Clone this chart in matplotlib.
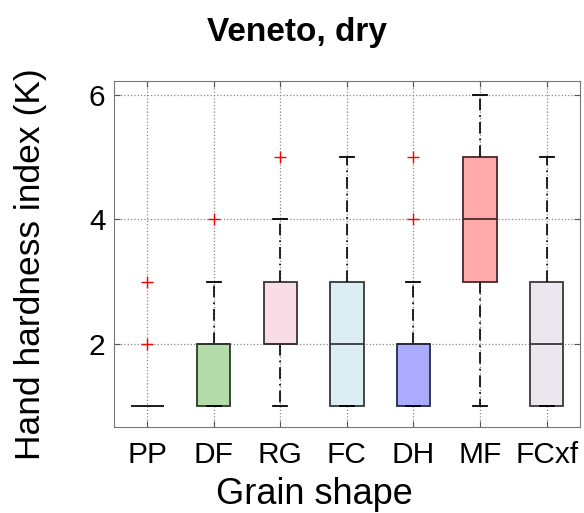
import matplotlib
matplotlib.use('Agg')
import matplotlib.pyplot as plt

plt.rcParams['font.family'] = ['Liberation Sans', 'DejaVu Sans']

# grain shape classes and box statistics
shapes = ['PP', 'DF', 'RG', 'FC', 'DH', 'MF', 'FCxf']
q1 = [1, 1, 2, 1, 1, 3, 1]
med = [1, 2, 2, 2, 2, 4, 2]
q3 = [1, 2, 3, 3, 2, 5, 3]
whis_lo = [1, 1, 1, 1, 1, 1, 1]
whis_hi = [1, 3, 4, 5, 3, 6, 5]
outliers = [[2, 3], [4], [5], [], [4, 5], [], []]

fills = ['#ffffff', '#b4dcaa', '#f8dce6', '#dcedf3', '#aaaaff', '#ffaaaa', '#ece6ee']
edges = ['#222222', '#2a3a28', '#3a3236', '#33393b', '#28284a', '#4a2828', '#3a383a']

stats = []
for i in range(len(shapes)):
    stats.append(dict(med=med[i], q1=q1[i], q3=q3[i], whislo=whis_lo[i],
                      whishi=whis_hi[i], fliers=outliers[i], label=shapes[i]))

fig = plt.figure(figsize=(5.84, 5.13), dpi=100)
ax = fig.add_axes([0.195, 0.168, 0.798, 0.674])

bp = ax.bxp(stats, widths=0.5, patch_artist=True,
            whiskerprops=dict(color='black', linestyle=(0, (7, 3, 1, 3)), linewidth=1.2),
            capprops=dict(color='black', linewidth=1.3),
            flierprops=dict(marker='+', markeredgecolor='red', markersize=8, linestyle='none'),
            medianprops=dict(linewidth=1.3),
            capwidths=0.21)

for i, box in enumerate(bp['boxes']):
    box.set_facecolor(fills[i])
    box.set_edgecolor(edges[i])
    box.set_linewidth(1.3)
for i, m in enumerate(bp['medians']):
    m.set_color(edges[i])
    m.set_zorder(3)

ax.set_xlim(0.5, 7.5)
ax.set_ylim(0.67, 6.22)
ax.set_yticks([2, 4, 6])
ax.grid(True, linestyle=':', color='#888888', linewidth=0.9)
ax.set_axisbelow(True)
ax.tick_params(direction='in', top=True, right=True, labelsize=21.5, length=4,
               color='#555555')
ax.tick_params(axis='x', pad=10)
ax.tick_params(axis='y', pad=6)
for s in ax.spines.values():
    s.set_color('#777777')

ax.set_title('Veneto, dry', fontsize=24, fontweight='bold', pad=29, x=0.393)
ax.set_xlabel('Grain shape', fontsize=26, labelpad=6, x=0.431)
ax.set_ylabel('Hand hardness index (K)', fontsize=25.5, labelpad=30, y=0.47)

fig.savefig('out.png', dpi=100)
